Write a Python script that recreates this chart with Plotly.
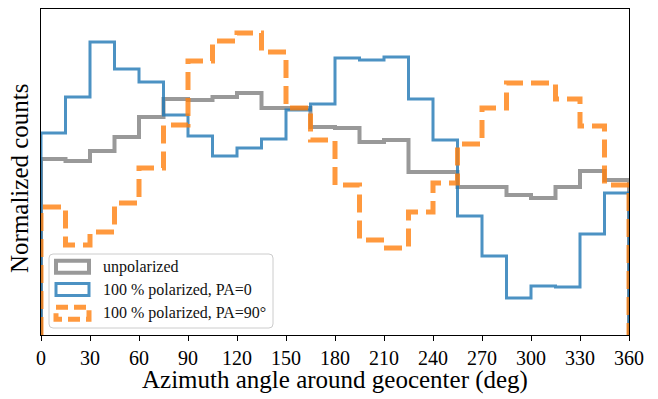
import plotly.graph_objects as go

# bin edges (deg)
bin_edges = [0, 15, 30, 45, 60, 75, 90, 105, 120, 135, 150, 165, 180,
             195, 210, 225, 240, 255, 270, 285, 300, 315, 330, 345, 360]

# normalized counts (arbitrary units) per 15-degree bin
unpolarized = [1.76, 1.74, 1.84, 1.98, 2.18, 2.36, 2.35, 2.38, 2.42, 2.27, 2.27, 2.08,
               2.07, 1.93, 1.95, 1.63, 1.63, 1.48, 1.48, 1.40, 1.37, 1.48, 1.64, 1.55]
pol_pa0 = [2.02, 2.38, 2.93, 2.66, 2.53, 2.20, 1.99, 1.79, 1.87, 1.96, 2.25, 2.31,
           2.77, 2.75, 2.78, 2.36, 1.95, 1.19, 0.79, 0.37, 0.49, 0.48, 1.01, 1.42]
pol_pa90 = [1.28, 0.90, 1.03, 1.32, 1.67, 2.10, 2.74, 2.94, 3.02, 2.83, 2.27, 1.95,
            1.50, 0.95, 0.87, 1.23, 1.52, 1.91, 2.27, 2.52, 2.52, 2.36, 2.09, 1.50]

names = ["unpolarized", "100 % polarized, PA=0", "100 % polarized, PA=90°"]
x_ticks = [0, 30, 60, 90, 120, 150, 180, 210, 240, 270, 300, 330, 360]

GRAY = "rgba(128,128,128,0.8)"
BLUE = "rgba(31,119,180,0.8)"
ORANGE = "rgba(255,127,14,0.8)"
styles = [
    dict(color=GRAY, width=4, dash="solid"),
    dict(color=BLUE, width=3, dash="solid"),
    dict(color=ORANGE, width=5, dash="18px,8px"),
]

W, H = 658, 399
L, R, T, B = 41, 29, 9, 64
PW, PH = W - L - R, H - T - B


def px_x(px):
    return (px - L) / PW


def px_y(py):
    return (H - B - py) / PH


fig = go.Figure()
for vals, name, st in zip([unpolarized, pol_pa0, pol_pa90], names, styles):
    xs = [bin_edges[0]] + bin_edges[:-1] + [bin_edges[-1], bin_edges[-1]]
    ys = [0] + vals + [vals[-1], 0]
    fig.add_trace(go.Scatter(x=xs, y=ys, mode="lines", name=name,
                             line=dict(shape="hv", **st), showlegend=False,
                             hoverinfo="skip"))

shapes = []
annotations = []


def rounded_rect(x0, y0, x1, y1, r):
    pts = [
        f"M {px_x(x0 + r)},{px_y(y0)}",
        f"L {px_x(x1 - r)},{px_y(y0)}",
        f"Q {px_x(x1)},{px_y(y0)} {px_x(x1)},{px_y(y0 + r)}",
        f"L {px_x(x1)},{px_y(y1 - r)}",
        f"Q {px_x(x1)},{px_y(y1)} {px_x(x1 - r)},{px_y(y1)}",
        f"L {px_x(x0 + r)},{px_y(y1)}",
        f"Q {px_x(x0)},{px_y(y1)} {px_x(x0)},{px_y(y1 - r)}",
        f"L {px_x(x0)},{px_y(y0 + r)}",
        f"Q {px_x(x0)},{px_y(y0)} {px_x(x0 + r)},{px_y(y0)} Z",
    ]
    return " ".join(pts)


# legend frame
shapes.append(dict(type="path", xref="paper", yref="paper",
                   path=rounded_rect(49, 254, 273, 328, 4),
                   line=dict(color="rgba(204,204,204,1)", width=1),
                   fillcolor="rgba(255,255,255,0.8)", layer="above"))

row_centers = [266.7, 289.5, 313.3]
for yc, name, st in zip(row_centers, names, styles):
    shapes.append(dict(type="rect", xref="paper", yref="paper",
                       x0=px_x(56), x1=px_x(89), y0=px_y(yc - 6), y1=px_y(yc + 6),
                       line=dict(color=st["color"], width=st["width"],
                                 dash="12px,6px" if st["dash"] != "solid" else "solid"),
                       fillcolor="rgba(0,0,0,0)", layer="above"))
    annotations.append(dict(x=px_x(101), y=px_y(yc), xref="paper", yref="paper",
                            text=name, showarrow=False, xanchor="left", yanchor="middle",
                            font=dict(family="Liberation Serif", size=16, color="#111")))

annotations.append(dict(x=0.5, y=px_y(380), xref="paper", yref="paper",
                        text="Azimuth angle around geocenter (deg)", showarrow=False,
                        xanchor="center", yanchor="middle",
                        font=dict(family="Liberation Serif", size=25, color="black")))
annotations.append(dict(x=px_x(19), y=px_y(178), xref="paper", yref="paper",
                        text="Normalized counts", showarrow=False, textangle=-90,
                        xanchor="center", yanchor="middle",
                        font=dict(family="Liberation Serif", size=25, color="black")))

fig.update_layout(
    width=W, height=H,
    margin=dict(l=L, r=R, t=T, b=B, pad=0),
    paper_bgcolor="white", plot_bgcolor="white",
    showlegend=False,
    shapes=shapes, annotations=annotations,
    font=dict(family="Liberation Serif", color="black"),
    xaxis=dict(range=[0, 360], tickvals=x_ticks, ticktext=[str(t) for t in x_ticks],
               ticks="outside", ticklen=5, tickwidth=1, tickcolor="black",
               showline=True, linecolor="black", linewidth=1, mirror=True,
               showgrid=False, zeroline=False, tickfont=dict(size=20)),
    yaxis=dict(range=[0, 3.26], showticklabels=False, ticks="",
               showline=True, linecolor="black", linewidth=1, mirror=True,
               showgrid=False, zeroline=False),
)

fig.write_html("out.html")
